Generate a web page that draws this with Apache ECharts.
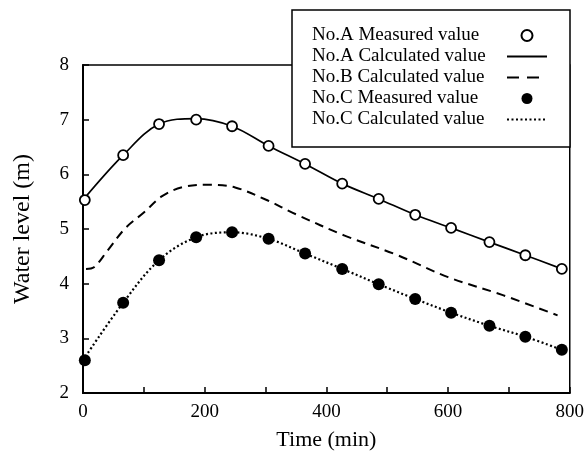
<!DOCTYPE html>
<html>
<head>
<meta charset="utf-8">
<script src="https://cdn.jsdelivr.net/npm/echarts@6/dist/echarts.min.js"></script>
<style>
  html, body { margin: 0; padding: 0; background: #fff; }
  #chart { width: 587px; height: 456px; }
</style>
</head>
<body>
<div id="chart"></div>
<script>
// measured points (time in min, water level in m)
const aTime = [3, 66, 125, 186, 245, 305, 365, 426, 486, 546, 605, 668, 727, 787];
const aMeasured = [5.53, 6.35, 6.92, 7.0, 6.88, 6.52, 6.19, 5.83, 5.55, 5.26, 5.02, 4.76, 4.52, 4.27];
const cTime = [3, 66, 125, 186, 245, 305, 365, 426, 486, 546, 605, 668, 727, 787];
const cMeasured = [2.6, 3.65, 4.43, 4.85, 4.94, 4.82, 4.55, 4.27, 3.99, 3.72, 3.47, 3.23, 3.03, 2.79];

// calculated curves
const aCalcTime = [0, 66, 125, 186, 245, 305, 365, 426, 486, 546, 605, 668, 727, 787];
const aCalc = [5.53, 6.35, 6.92, 7.02, 6.88, 6.52, 6.19, 5.83, 5.55, 5.26, 5.02, 4.76, 4.52, 4.27];
const bCalcTime = [5, 18, 40, 70, 100, 130, 165, 210, 250, 300, 350, 430, 515, 600, 690, 780];
const bCalc = [4.27, 4.3, 4.6, 5.02, 5.3, 5.6, 5.77, 5.81, 5.76, 5.54, 5.27, 4.88, 4.53, 4.12, 3.79, 3.42];
const cCalcTime = [0, 66, 125, 186, 245, 305, 365, 426, 486, 546, 605, 668, 727, 787];
const cCalc = [2.6, 3.65, 4.43, 4.85, 4.94, 4.82, 4.55, 4.27, 3.99, 3.72, 3.47, 3.23, 3.03, 2.79];

const names = [
  "No.A Measured value",
  "No.A Calculated value",
  "No.B Calculated value",
  "No.C Measured value",
  "No.C Calculated value",
];

const xTicks = [0, 200, 400, 600, 800]; // labelled ticks
const serif = "'Liberation Serif', 'Times New Roman', serif";

function pairs(xs, ys) {
  return xs.map((x, i) => [x, ys[i]]);
}

const chart = echarts.init(document.getElementById("chart"));
const hideDot = { opacity: 0 };

const option = {
  animation: false,
  backgroundColor: "#fff",
  textStyle: { fontFamily: serif, color: "#000" },
  grid: {
    left: 83,
    right: 10,
    top: 65,
    bottom: 59,
    show: true,
    borderColor: "#000",
    borderWidth: 1.5,
  },
  legend: {
    orient: "vertical",
    left: 292,
    top: 10,
    align: "right",
    padding: [16, 22, 18, 20],
    backgroundColor: "#fff",
    borderColor: "#000",
    borderWidth: 1.5,
    itemWidth: 40,
    itemHeight: 11,
    itemGap: 2,
    formatter: "{t|{name}}",
    textStyle: {
      fontFamily: serif,
      fontSize: 19,
      color: "#000",
      rich: { t: { width: 190, align: "left", fontFamily: serif, fontSize: 19, color: "#000" } },
    },
    data: [
      { name: names[0], icon: "circle" },
      { name: names[1], itemStyle: hideDot },
      { name: names[2], itemStyle: hideDot, lineStyle: { type: [12, 8] } },
      { name: names[3], icon: "circle" },
      { name: names[4], itemStyle: hideDot },
    ],
  },
  xAxis: {
    type: "value",
    min: 0,
    max: 800,
    interval: 100,
    name: "Time (min)",
    nameLocation: "middle",
    nameGap: 36,
    nameTextStyle: { fontFamily: serif, fontSize: 22, color: "#000" },
    axisLine: { lineStyle: { color: "#000", width: 2 } },
    axisTick: { inside: true, length: 6, lineStyle: { color: "#000", width: 1.5 } },
    axisLabel: {
      fontFamily: serif,
      fontSize: 19,
      color: "#000",
      margin: 10,
      formatter: (v) => (xTicks.indexOf(v) >= 0 ? String(v) : ""),
    },
    splitLine: { show: false },
  },
  yAxis: {
    type: "value",
    min: 2,
    max: 8,
    interval: 1,
    name: "Water level (m)",
    nameLocation: "middle",
    nameGap: 48,
    nameTextStyle: { fontFamily: serif, fontSize: 24, color: "#000" },
    axisLine: { show: true, lineStyle: { color: "#000", width: 2 } },
    axisTick: { show: true, inside: true, length: 6, lineStyle: { color: "#000", width: 1.5 } },
    axisLabel: { fontFamily: serif, fontSize: 19, color: "#000", margin: 14 },
    splitLine: { show: false },
  },
  series: [
    {
      name: names[0],
      type: "scatter",
      data: pairs(aTime, aMeasured),
      symbol: "circle",
      symbolSize: 10,
      itemStyle: { color: "#fff", borderColor: "#000", borderWidth: 1.8, opacity: 1 },
      z: 5,
    },
    {
      name: names[1],
      type: "line",
      data: pairs(aCalcTime, aCalc),
      smooth: 0.35,
      symbol: "none",
      itemStyle: { color: "#000" },
      lineStyle: { color: "#000", width: 1.7 },
      z: 3,
    },
    {
      name: names[2],
      type: "line",
      data: pairs(bCalcTime, bCalc),
      smooth: 0.35,
      symbol: "none",
      itemStyle: { color: "#000" },
      lineStyle: { color: "#000", width: 2, type: [9, 6] },
      z: 3,
    },
    {
      name: names[3],
      type: "scatter",
      data: pairs(cTime, cMeasured),
      symbol: "circle",
      symbolSize: 12,
      itemStyle: { color: "#000", opacity: 1 },
      z: 5,
    },
    {
      name: names[4],
      type: "line",
      data: pairs(cCalcTime, cCalc),
      smooth: 0.35,
      symbol: "none",
      itemStyle: { color: "#000" },
      lineStyle: { color: "#000", width: 2.2, type: [2, 2.5] },
      z: 3,
    },
  ],
};

chart.setOption(option);
</script>
</body>
</html>
